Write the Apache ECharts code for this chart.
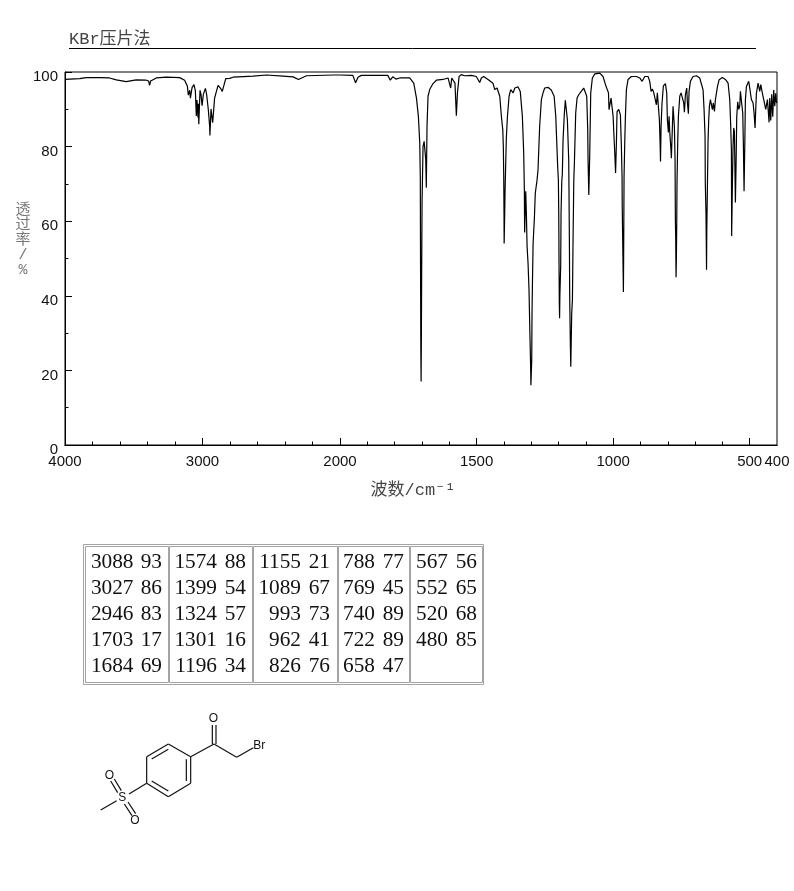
<!DOCTYPE html>
<html>
<head>
<meta charset="utf-8">
<title>KBr</title>
<style>
    html, body { margin: 0; padding: 0; background: #fff; }
    #main { width: 794px; height: 891px; }
</style>
<script src="https://cdn.jsdelivr.net/npm/echarts@6/dist/echarts.min.js"></script>
</head>
<body>
<div id="main"></div>
<script>
// spectrum, same order in both lists
let wavenumbers = [
    4000, 3894, 3846, 3749, 3676, 3627, 3555, 3482, 3409, 3392, 3385, 3377, 3336, 3263, 3166, 3130,
    3110, 3103, 3093, 3088, 3076, 3062, 3052, 3045, 3040, 3033, 3030, 3027, 3018, 3011, 3003, 2994,
    2979, 2970, 2958, 2948, 2946, 2938, 2926, 2912, 2887, 2870, 2856, 2831, 2802, 2778, 2632, 2535,
    2414, 2341, 2302, 2244, 2050, 2000,
    1953, 1943, 1934, 1922, 1825, 1816, 1807, 1795, 1781, 1745, 1730, 1720, 1713, 1708, 1706, 1705,
    1704, 1703, 1702, 1701, 1699.6, 1696, 1692, 1689, 1686, 1684, 1681.4, 1677.7, 1671.6, 1659.4, 1647, 1623,
    1604.4, 1598, 1594.7, 1591, 1584, 1579, 1574, 1570, 1564, 1556, 1543.4, 1537, 1519, 1501, 1488.5, 1482.4,
    1474, 1458, 1440, 1433.6, 1425, 1415, 1409, 1404, 1402, 1400.5, 1399.5, 1399, 1397, 1395.7, 1391, 1387,
    1381, 1375, 1366, 1360, 1348, 1340, 1332.3, 1327.4, 1325, 1324, 1320, 1317.6, 1315, 1311.5, 1308, 1305,
    1302, 1301, 1298, 1297, 1295.6, 1293, 1288, 1285, 1278.6, 1275, 1269, 1262.7, 1256.6, 1250.5, 1238.3, 1226,
    1216, 1210, 1203, 1200.4, 1199, 1198, 1197, 1196, 1195, 1192, 1190.7, 1188, 1186, 1183.3, 1178.5, 1175,
    1171, 1167.5, 1162.6, 1161.4, 1160, 1159, 1156.5, 1155, 1151.6, 1149, 1146.7, 1144, 1141.8, 1137, 1132, 1126,
    1120, 1116, 1112.6, 1107.7, 1100.4, 1096.7, 1093, 1091.8, 1089, 1085.7, 1082, 1076, 1067, 1049, 1037, 1028,
    1022, 1017, 1015, 1011, 1007.6, 1004, 1000, 998, 994, 991, 988, 985.6, 979.5, 973.4, 969.8, 967.3,
    966.7, 962.4, 961.5, 960.5, 960, 957.5, 955, 951.4, 945.3, 933, 914.8, 902.6, 894, 884, 872, 866,
    861, 856, 851.4, 845.3, 841.6, 838, 834.3, 830.6, 828, 826.5, 824.5, 820.9, 816, 808.6, 803.8, 801.3,
    797.7, 795.2, 792.8, 789, 786.7, 783, 780.6, 778, 775.7, 773.3, 772, 770.8, 769.6, 768.4, 767.2, 766,
    763.5, 761, 756, 751.3, 745, 741.5, 739, 735.4, 730.5, 728, 724.4, 722, 717, 707.4, 695, 683,
    676.8, 670.7, 667, 663.4, 662.5, 660, 658, 657, 655, 652.4, 650, 647.5, 643.8, 639, 636.5, 633,
    629, 625.5, 622, 618, 612, 600, 587.7, 579, 573, 569.4, 566.9, 566, 563.3, 560.9, 558.4, 556,
    554.8, 552.3, 549.9, 547.4, 543.8, 540.1, 536.4, 534, 529.1, 525.4, 523, 520.6, 518, 515.7, 512, 507,
    503.5, 499.8, 493.7, 487.6, 484, 480.3, 477.9, 475.4, 469.3, 463.2, 459.5, 453.4, 448.6, 444.9, 441.2, 438.8,
    435.1, 431.5, 429, 426.6, 422.9, 419.3, 415.6, 412, 408.3, 404.6, 402.2, 400
];
let transmittance = [
    98.0, 98.2, 98.5, 98.5, 98.4, 97.9, 97.4, 97.9, 97.8, 97.6, 96.4, 97.6, 98.4, 98.6, 98.5, 97.8,
    96.2, 93.8, 95.1, 93, 95.8, 96.6, 95, 88.2, 92.5, 87.8, 91.5, 86, 95.1, 94, 91, 94,
    95.6, 94, 90, 85.5, 83, 90.1, 86.4, 93, 96.4, 95.7, 94.8, 98.2, 98.3, 98.6, 98.9, 99.2,
    98.9, 98.7, 98.0, 99.0, 99.2, 99.2,
    99.1, 97.1, 98.6, 99.1, 99.1, 97.8, 98.7, 98.1, 98.4, 98.4, 97, 93, 88.1, 81, 72, 46,
    25, 17, 30, 46, 65, 80, 81.4, 81, 76.5, 69, 85.4, 93.5, 95.3, 96.9, 97.8, 98,
    98.4, 98.4, 95.7, 98.4, 98.4, 97, 88.3, 94.4, 98.8, 99.3, 99, 99.5, 99.1, 98.8, 97.2, 98.4,
    98.8, 98, 97, 95.3, 95.7, 93.5, 88, 84.5, 80, 72, 62, 54, 62, 68, 82.3, 88,
    93.5, 95.3, 94.4, 95.7, 96, 94.8, 88.1, 78.3, 68.4, 57, 68, 62, 53.2, 48.7, 41.6, 30.9,
    21, 16, 22.8, 35, 42.5, 54, 61.3, 67.5, 71, 73.8, 85.4, 92.6, 94.4, 95.7, 95.9, 95.1,
    93.5, 88.1, 74.7, 71, 61.3, 48, 38, 34, 40, 47.9, 62, 70.7, 72.5, 81.8, 89, 92.4,
    92.4, 87.2, 76.5, 66.6, 53.2, 39.8, 26.4, 21, 35.3, 38.9, 55, 71, 75.6, 89, 93, 93.9,
    94.4, 94.9, 94.4, 95.7, 95.7, 93.5, 84.5, 76.5, 67, 77.8, 94.4, 98.4, 99.5, 99.7, 98.8, 96.6,
    97, 94.4, 89.9, 89.4, 93, 92.6, 88.1, 84.5, 78.3, 72.9, 81, 89.4, 90, 88.5, 80, 72,
    64.4, 41, 50, 64.4, 72, 81, 88.1, 95.3, 98, 98.8, 98.8, 98.4, 97.5, 98.8, 98.8, 97.5,
    94.8, 95.4, 94.5, 94.8, 91.2, 94.4, 93.9, 87.2, 81, 76, 85.4, 91.7, 96.3, 96.9, 94.4, 87.2,
    83.8, 88.1, 84.1, 80, 76.9, 85.4, 90.8, 90.8, 85.4, 76.5, 60, 55, 45, 50, 58.6, 71,
    81, 88.1, 93.5, 94.4, 93.9, 91.7, 89.2, 93.9, 95.7, 91.7, 88.8, 94.8, 97.5, 98.8, 99, 98.4,
    97.9, 95.2, 89.9, 82.7, 70.3, 62, 47, 58, 68, 81.8, 87.2, 90.8, 92.6, 93, 89.9, 91.7,
    89.4, 92.6, 93, 96.1, 97.9, 98.5, 97.9, 97, 92.6, 85.4, 79, 56, 70, 80, 85, 84,
    78, 65, 75, 88, 92, 90, 90.8, 94.8, 95.2, 89, 80, 68, 80, 92.6, 96.1, 96.6,
    97.5, 95.7, 92.6, 91.7, 89, 85, 90, 94.3, 97, 94.8, 96.6, 94.3, 92.6, 92.6, 90, 89.9,
    92.6, 89, 86.5, 93, 87, 94, 88, 95.2, 90.8, 94.3, 92, 91.7
];

// tick lists for the two halves of the wavenumber axis
let majorLeft = [4000, 3000, 2000];
let minorLeft = [3800, 3600, 3400, 3200, 2800, 2600, 2400, 2200];
let majorRight = [2000, 1500, 1000, 500];
let minorRight = [1900, 1800, 1700, 1600, 1400, 1300, 1200, 1100, 900, 800, 700, 600];
let labelsRight = [1500, 1000, 500, 400];

// peak table, one list per column
let peakWaves = [
    ['3088', '3027', '2946', '1703', '1684'],
    ['1574', '1399', '1324', '1301', '1196'],
    ['1155', '1089', '993', '962', '826'],
    ['788', '769', '740', '722', '658'],
    ['567', '552', '520', '480']
];
let peakValues = [
    ['93', '86', '83', '17', '69'],
    ['88', '54', '57', '16', '34'],
    ['21', '67', '73', '41', '76'],
    ['77', '45', '89', '89', '47'],
    ['56', '65', '68', '85']
];

let spectrum = [];
for (let i = 0; i < wavenumbers.length; i++) {
    spectrum.push([wavenumbers[i], transmittance[i]]);
}
let leftData = spectrum.filter(p => p[0] >= 2000);
let rightData = spectrum.filter(p => p[0] <= 2000);

let axisFont = '"Liberation Sans", sans-serif';
let labelFont = '"Liberation Mono", "Noto Sans CJK SC", monospace';

function xAxisFor(gridIndex, min, max, ticks, tickLen, labels) {
    return {
        type: 'value',
        gridIndex: gridIndex,
        min: min,
        max: max,
        inverse: true,
        position: 'bottom',
        splitLine: { show: false },
        axisLine: { show: true, lineStyle: { color: '#000', width: 1 } },
        axisTick: { show: true, inside: true, length: tickLen, customValues: ticks, lineStyle: { color: '#000' } },
        axisLabel: labels ? {
            show: true, customValues: labels, margin: 9, color: '#111',
            fontFamily: axisFont, fontSize: 15, hideOverlap: false,
            showMinLabel: true, showMaxLabel: true,
            formatter: function (v) { return String(v); }
        } : { show: false }
    };
}

// peak table drawn as graphic elements
function tableGraphic() {
    let items = [];
    let line = '#a3a3a3';
    let cellX = [[85, 168], [169, 252], [253, 337], [338, 409], [410, 482]];
    let waveRight = [133.5, 217, 301, 375, 448];
    let valueRight = [162, 246, 330, 404, 477];
    let rowY = [562, 588, 614.5, 640, 666];
    items.push({
        type: 'rect', shape: { x: 83.5, y: 544.5, width: 400, height: 140 },
        style: { fill: '#fff', stroke: line, lineWidth: 1 }
    });
    for (let c = 0; c < peakWaves.length; c++) {
        items.push({
            type: 'rect',
            shape: { x: cellX[c][0] + 0.5, y: 546.5, width: cellX[c][1] - cellX[c][0], height: 136 },
            style: { fill: '#fff', stroke: line, lineWidth: 1 }
        });
        for (let r = 0; r < peakWaves[c].length; r++) {
            items.push(cellText(peakWaves[c][r], waveRight[c], rowY[r]));
            items.push(cellText(peakValues[c][r], valueRight[c], rowY[r]));
        }
    }
    return items;
}

function cellText(text, x, y) {
    return {
        type: 'text', x: x, y: y, z: 5,
        style: {
            text: text, fill: '#111', align: 'right', verticalAlign: 'middle',
            font: '21.3px "Liberation Serif", serif'
        }
    };
}

// structure picture, coordinates taken from the 3x crop
function mx(x) { return 80 + x / 3; }
function my(y) { return 700 + y / 3; }

let bonds = [
    [200, 170, 265, 132], [265, 132, 332, 170], [332, 170, 332, 250], [332, 250, 265, 290],
    [265, 290, 200, 250], [200, 250, 200, 170], [215, 177, 265, 148], [319, 178, 319, 243],
    [215, 243, 265, 273], [332, 170, 402, 132], [397, 132, 397, 75], [408, 132, 408, 75],
    [402, 132, 470, 172], [470, 172, 520, 143], [200, 250, 147, 282], [110, 302, 62, 330],
    [124, 272, 103, 237], [113, 278, 92, 243], [133, 312, 156, 347], [144, 306, 167, 341]
];
let atoms = [
    ['O', 400, 55], ['Br', 538, 137], ['S', 127, 292], ['O', 88, 226], ['O', 165, 363]
];

function moleculeGraphic() {
    let items = [];
    bonds.forEach(function (b) {
        items.push({
            type: 'line',
            shape: { x1: mx(b[0]), y1: my(b[1]), x2: mx(b[2]), y2: my(b[3]) },
            style: { stroke: '#111', lineWidth: 1.2 }
        });
    });
    atoms.forEach(function (a) {
        items.push({
            type: 'text', x: mx(a[1]), y: my(a[2]),
            style: {
                text: a[0], fill: '#111', align: 'center', verticalAlign: 'middle',
                font: '12px "Liberation Sans", sans-serif'
            }
        });
    });
    return items;
}

let option = {
    animation: false,
    backgroundColor: '#fff',
    title: {
        text: 'KBr压片法',
        left: 69,
        top: 31,
        padding: 0,
        textStyle: { fontFamily: labelFont, fontSize: 17, fontWeight: 'normal', color: '#444' }
    },
    grid: [
        { left: 65, top: 72, width: 275, height: 373 },
        { left: 340, top: 72, width: 437, height: 373 },
        { left: 65, top: 72, width: 712, height: 373, show: true, borderColor: '#000', borderWidth: 1, backgroundColor: 'transparent' }
    ],
    xAxis: [
        xAxisFor(0, 2000, 4000, majorLeft, 7, majorLeft),
        xAxisFor(0, 2000, 4000, minorLeft, 3.5, null),
        xAxisFor(1, 400, 2000, majorRight, 7, labelsRight),
        xAxisFor(1, 400, 2000, minorRight, 3.5, null)
    ],
    yAxis: [
        {
            type: 'value', gridIndex: 0, min: 0, max: 100, interval: 20,
            splitLine: { show: false },
            axisLine: { show: true, lineStyle: { color: '#000', width: 1 } },
            axisTick: { show: true, inside: true, length: 7, lineStyle: { color: '#000' } },
            minorTick: { show: true, splitNumber: 2, length: 3.5, lineStyle: { color: '#000' } },
            axisLabel: { margin: 7, color: '#111', fontFamily: axisFont, fontSize: 15, verticalAlign: 'top', lineHeight: 10 }
        },
        { type: 'value', gridIndex: 1, min: 0, max: 100, show: false }
    ],
    series: [
        {
            type: 'line', xAxisIndex: 0, yAxisIndex: 0, data: leftData,
            showSymbol: false, symbol: 'none', lineStyle: { color: '#000', width: 1.2 }
        },
        {
            type: 'line', xAxisIndex: 2, yAxisIndex: 1, data: rightData,
            showSymbol: false, symbol: 'none', lineStyle: { color: '#000', width: 1.2 }
        }
    ],
    graphic: [
        { type: 'line', shape: { x1: 69, y1: 48.5, x2: 756, y2: 48.5 }, style: { stroke: '#000', lineWidth: 1 } },
        {
            type: 'text', x: 413, y: 490,
            style: { text: '波数/cm⁻¹', fill: '#444', align: 'center', verticalAlign: 'middle', font: '17px ' + labelFont }
        },
        {
            type: 'text', x: 23, y: 240,
            style: {
                text: '透\n过\n率\n/\n%', fill: '#777', align: 'center', verticalAlign: 'middle',
                font: '15px ' + labelFont, lineHeight: 15
            }
        }
    ].concat(tableGraphic(), moleculeGraphic())
};

let chart = echarts.init(document.getElementById('main'));
chart.setOption(option);
</script>
</body>
</html>
